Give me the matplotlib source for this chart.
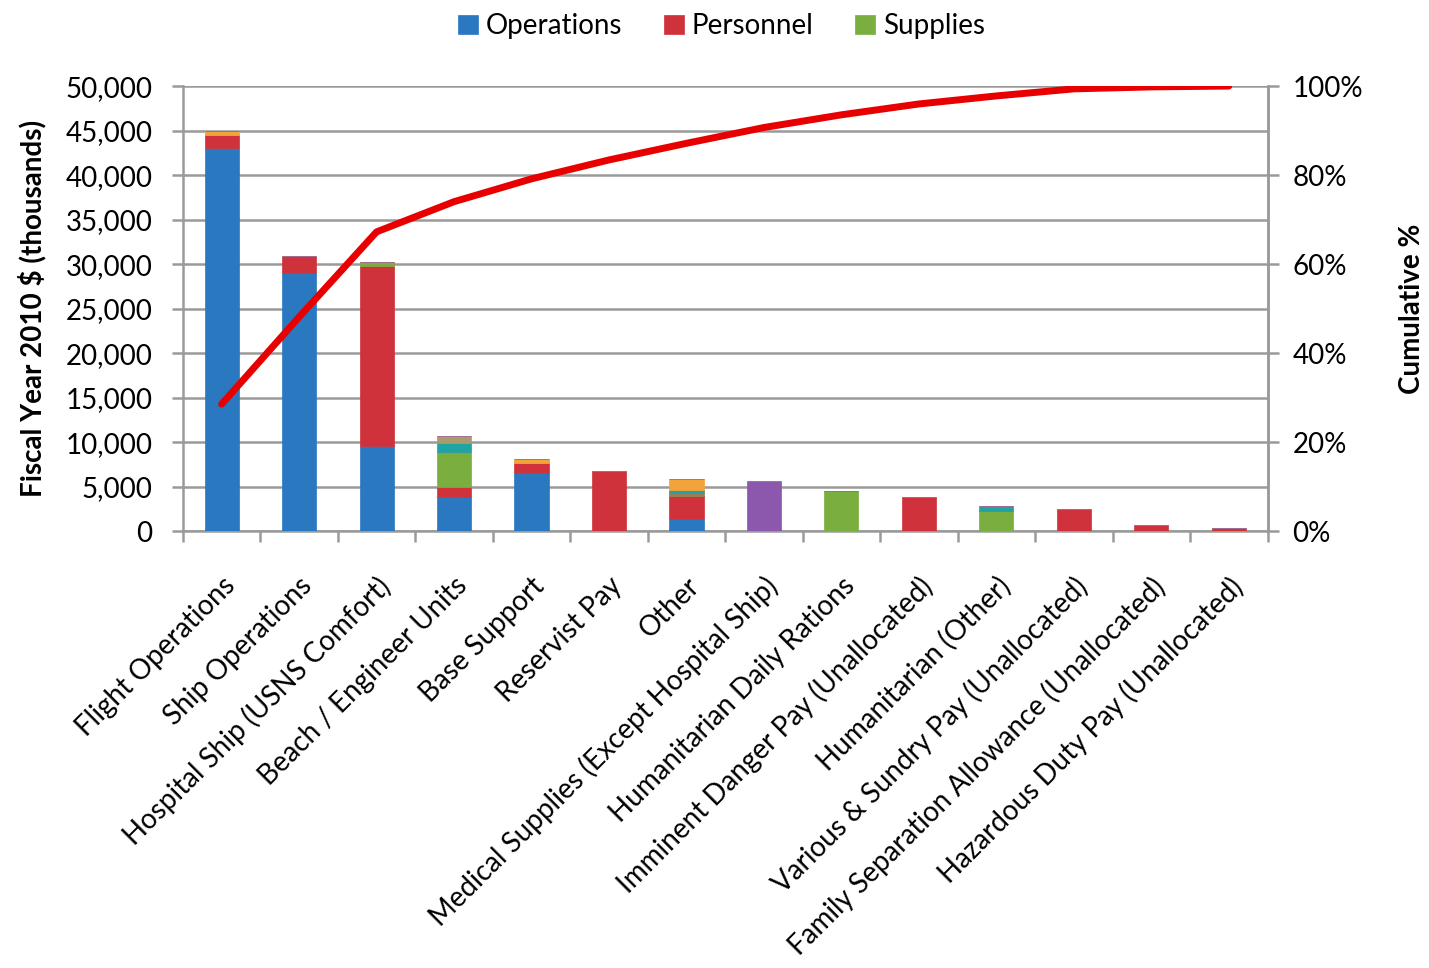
import matplotlib.pyplot as plt
import numpy as np
from matplotlib.ticker import FuncFormatter, FixedLocator

plt.rcParams['font.family'] = ['Lato', 'DejaVu Sans']

categories = ["Flight Operations", "Ship Operations", "Hospital Ship (USNS Comfort)",
              "Beach / Engineer Units", "Base Support", "Reservist Pay", "Other",
              "Medical Supplies (Except Hospital Ship)", "Humanitarian Daily Rations",
              "Imminent Danger Pay (Unallocated)", "Humanitarian (Other)",
              "Various & Sundry Pay (Unallocated)", "Family Separation Allowance (Unallocated)",
              "Hazardous Duty Pay (Unallocated)"]

# values in thousands of FY2010 dollars
operations = [43000, 29000, 9500, 3800, 6500, 0, 1400, 0, 0, 0, 0, 0, 0, 0]
personnel = [1500, 1900, 20300, 1100, 1100, 6700, 2500, 0, 0, 3850, 0, 2500, 700, 300]
supplies = [0, 0, 400, 4000, 0, 0, 0, 0, 4500, 0, 2200, 0, 0, 0]
brown = [0, 0, 0, 0, 0, 0, 400, 0, 0, 0, 0, 0, 0, 0]
teal = [0, 0, 0, 950, 0, 0, 300, 0, 0, 0, 650, 0, 0, 0]
olive = [0, 0, 0, 850, 0, 0, 0, 0, 0, 0, 0, 0, 0, 0]
orange = [500, 0, 0, 0, 500, 0, 1300, 0, 0, 0, 0, 0, 0, 0]
purple = [0, 0, 0, 0, 0, 0, 0, 5600, 0, 0, 0, 0, 0, 0]

series = [
    (operations, "#2a78c0", "Operations"),
    (personnel, "#d0323b", "Personnel"),
    (supplies, "#7aae3e", "Supplies"),
    (brown, "#9c7c55", None),
    (teal, "#1fa3a3", None),
    (olive, "#a99c6c", None),
    (orange, "#f2a33a", None),
    (purple, "#8b58ad", None),
]

x = np.arange(len(categories))
totals = np.sum([s[0] for s in series], axis=0)
cum_pct = np.cumsum(totals) / totals.sum() * 100

fig = plt.figure(figsize=(14.29, 9.68), dpi=100)
ax = fig.add_axes([0.128, 0.4514, 0.759, 0.4597])

bottom = np.zeros(len(categories))
handles = []
for vals, col, lab in series:
    vals = np.array(vals, dtype=float)
    b = ax.bar(x, vals, width=0.44, bottom=bottom, color=col, edgecolor=col,
               linewidth=0.5, zorder=3)
    if lab:
        handles.append((b, lab))
    bottom += vals

ax.set_xlim(-0.5, len(categories) - 0.5)
ax.set_ylim(0, 50000)
ax.set_yticks(np.arange(0, 50001, 5000))
ax.yaxis.set_major_formatter(FuncFormatter(lambda v, p: f"{int(v):,}"))
ax.grid(axis='y', color='#9a9a9a', linewidth=1.8, zorder=0)
ax.set_axisbelow(True)

ax.set_xticks(x)
ax.set_xticklabels(categories, rotation=45, ha='right', va='top',
                   rotation_mode='anchor', fontsize=20)
ax.tick_params(axis='x', length=0, pad=30)
ax.xaxis.set_minor_locator(FixedLocator(np.arange(-0.5, len(categories), 1)))
ax.tick_params(axis='x', which='minor', length=8, width=1.8, color='#9a9a9a')
ax.tick_params(axis='y', length=8, width=1.8, color='#9a9a9a', labelsize=20, pad=14)

ax.spines['top'].set_visible(False)
for s in ['left', 'bottom', 'right']:
    ax.spines[s].set_color('#9a9a9a')
    ax.spines[s].set_linewidth(1.8)

ax.set_ylabel("Fiscal Year 2010 $ (thousands)", fontsize=20, fontweight='bold')
ax.yaxis.set_label_coords(-0.126, 0.5)

ax2 = ax.twinx()
ax2.plot(x, cum_pct, color='#e80000', linewidth=5, solid_capstyle='round', zorder=5)
ax2.set_ylim(0, 100)
ax2.set_yticks(np.arange(0, 101, 20))
ax2.yaxis.set_major_formatter(FuncFormatter(lambda v, p: f"{int(v)}%"))
ax2.tick_params(axis='y', length=8, width=1.8, color='#9a9a9a', labelsize=20, pad=10)
for s in ['top', 'left', 'bottom']:
    ax2.spines[s].set_visible(False)
ax2.spines['right'].set_color('#9a9a9a')
ax2.spines['right'].set_linewidth(1.8)
ax2.set_ylabel("Cumulative %", fontsize=20, fontweight='bold', rotation=90,
               va='center', ha='center')
ax2.yaxis.set_label_coords(1.133, 0.5)

fig.legend([h for h, _ in handles], [l for _, l in handles], loc='upper center',
           bbox_to_anchor=(0.505, 1.012), ncol=3, frameon=False, fontsize=20,
           handlelength=0.7, handleheight=0.7, handletextpad=0.3, columnspacing=1.5)

fig.savefig("out.png", dpi=100)
